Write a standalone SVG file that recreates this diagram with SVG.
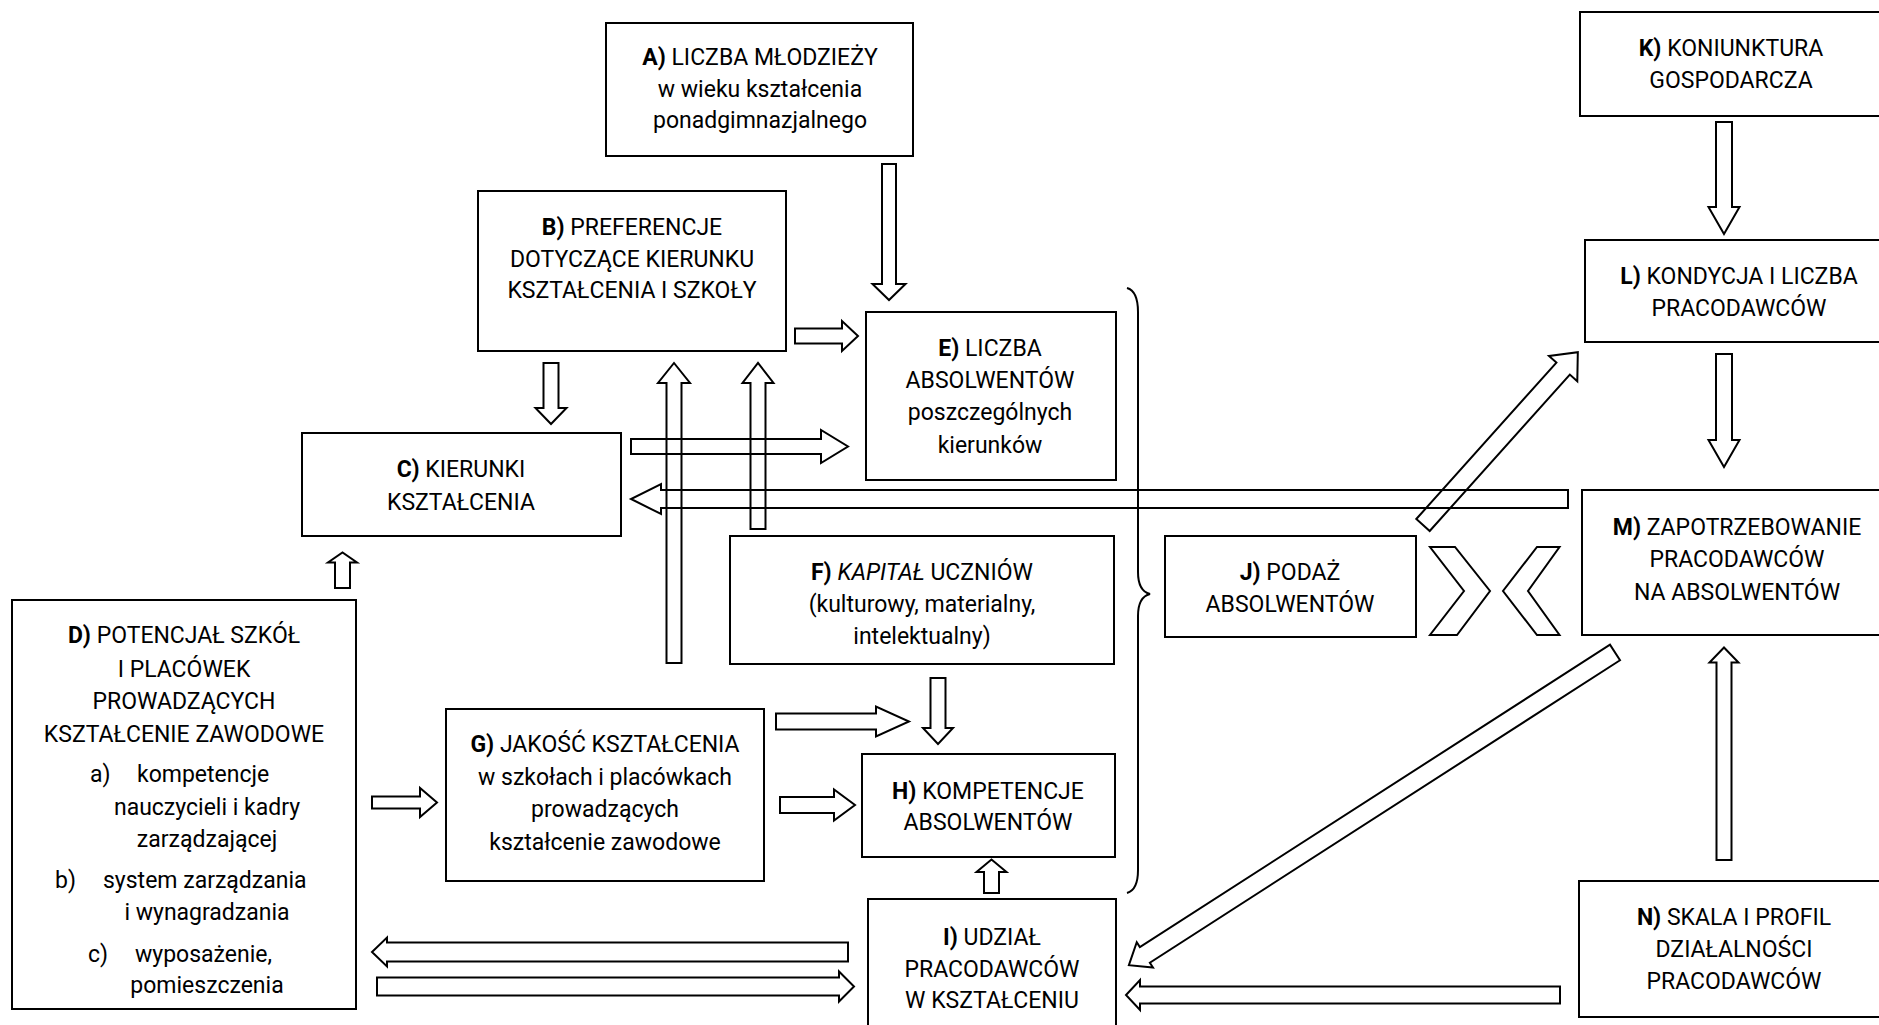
<svg xmlns="http://www.w3.org/2000/svg" width="1879" height="1025" viewBox="0 0 1879 1025">
<defs>
<style>
.box{fill:none;stroke:#000;stroke-width:2}
.arr{fill:none;stroke:#000;stroke-width:2;stroke-linejoin:miter}
.t{font-family:Roboto,"Liberation Sans",sans-serif;font-size:23px;fill:#000;text-anchor:middle}
.s{text-anchor:start}
.b{font-weight:bold}
.i{font-style:italic}
</style>
</defs>
<rect width="1879" height="1025" fill="#fff"/>

<g id="nodeA">
<rect class="box" x="606" y="23" width="307" height="133"/>
<text class="t" x="760" y="65"><tspan class="b">A)</tspan> LICZBA MŁODZIEŻY</text>
<text class="t" x="760" y="97">w wieku kształcenia</text>
<text class="t" x="760" y="128">ponadgimnazjalnego</text>
</g>

<g id="nodeB">
<rect class="box" x="478" y="191" width="308" height="160"/>
<text class="t" x="632" y="235"><tspan class="b">B)</tspan> PREFERENCJE</text>
<text class="t" x="632" y="267">DOTYCZĄCE KIERUNKU</text>
<text class="t" x="632" y="298">KSZTAŁCENIA I SZKOŁY</text>
</g>

<g id="nodeC">
<rect class="box" x="302" y="433" width="319" height="103"/>
<text class="t" x="461" y="477"><tspan class="b">C)</tspan> KIERUNKI</text>
<text class="t" x="461" y="510">KSZTAŁCENIA</text>
</g>

<g id="nodeD">
<rect class="box" x="12" y="600" width="344" height="409"/>
<text class="t" x="184" y="643"><tspan class="b">D)</tspan> POTENCJAŁ SZKÓŁ</text>
<text class="t" x="184" y="677">I PLACÓWEK</text>
<text class="t" x="184" y="709">PROWADZĄCYCH</text>
<text class="t" x="184" y="742">KSZTAŁCENIE ZAWODOWE</text>
<text class="t s" x="90" y="782">a)</text>
<text class="t s" x="137" y="782">kompetencje</text>
<text class="t" x="207" y="815">nauczycieli i kadry</text>
<text class="t" x="207" y="847">zarządzającej</text>
<text class="t s" x="55" y="888">b)</text>
<text class="t s" x="103" y="888">system zarządzania</text>
<text class="t" x="207" y="920">i wynagradzania</text>
<text class="t s" x="88" y="962">c)</text>
<text class="t s" x="135" y="962">wyposażenie,</text>
<text class="t" x="207" y="993">pomieszczenia</text>
</g>

<g id="nodeE">
<rect class="box" x="866" y="312" width="250" height="168"/>
<text class="t" x="990" y="356"><tspan class="b">E)</tspan> LICZBA</text>
<text class="t" x="990" y="388">ABSOLWENTÓW</text>
<text class="t" x="990" y="420">poszczególnych</text>
<text class="t" x="990" y="453">kierunków</text>
</g>

<g id="nodeF">
<rect class="box" x="730" y="536" width="384" height="128"/>
<text class="t" x="922" y="580"><tspan class="b">F)</tspan> <tspan class="i">KAPITAŁ</tspan> UCZNIÓW</text>
<text class="t" x="922" y="612">(kulturowy, materialny,</text>
<text class="t" x="922" y="644">intelektualny)</text>
</g>

<g id="nodeG">
<rect class="box" x="446" y="709" width="318" height="172"/>
<text class="t" x="605" y="752"><tspan class="b">G)</tspan> JAKOŚĆ KSZTAŁCENIA</text>
<text class="t" x="605" y="785">w szkołach i placówkach</text>
<text class="t" x="605" y="817">prowadzących</text>
<text class="t" x="605" y="850">kształcenie zawodowe</text>
</g>

<g id="nodeH">
<rect class="box" x="862" y="754" width="253" height="103"/>
<text class="t" x="988" y="799"><tspan class="b">H)</tspan> KOMPETENCJE</text>
<text class="t" x="988" y="830">ABSOLWENTÓW</text>
</g>

<g id="nodeI">
<rect class="box" x="868" y="899" width="248" height="140"/>
<text class="t" x="992" y="945"><tspan class="b">I)</tspan> UDZIAŁ</text>
<text class="t" x="992" y="977">PRACODAWCÓW</text>
<text class="t" x="992" y="1008">W KSZTAŁCENIU</text>
</g>

<g id="nodeJ">
<rect class="box" x="1165" y="536" width="251" height="101"/>
<text class="t" x="1290" y="580"><tspan class="b">J)</tspan> PODAŻ</text>
<text class="t" x="1290" y="612">ABSOLWENTÓW</text>
</g>

<g id="nodeK">
<rect class="box" x="1580" y="12" width="320" height="104"/>
<text class="t" x="1731" y="56"><tspan class="b">K)</tspan> KONIUNKTURA</text>
<text class="t" x="1731" y="88">GOSPODARCZA</text>
</g>

<g id="nodeL">
<rect class="box" x="1585" y="240" width="320" height="102"/>
<text class="t" x="1739" y="284"><tspan class="b">L)</tspan> KONDYCJA I LICZBA</text>
<text class="t" x="1739" y="316">PRACODAWCÓW</text>
</g>

<g id="nodeM">
<rect class="box" x="1582" y="490" width="320" height="145"/>
<text class="t" x="1737" y="535"><tspan class="b">M)</tspan> ZAPOTRZEBOWANIE</text>
<text class="t" x="1737" y="567">PRACODAWCÓW</text>
<text class="t" x="1737" y="600">NA ABSOLWENTÓW</text>
</g>

<g id="nodeN">
<rect class="box" x="1579" y="881" width="320" height="136"/>
<text class="t" x="1734" y="925"><tspan class="b">N)</tspan> SKALA I PROFIL</text>
<text class="t" x="1734" y="957">DZIAŁALNOŚCI</text>
<text class="t" x="1734" y="989">PRACODAWCÓW</text>
</g>

<g id="connectors">
<path class="arr" d="M882,164 L896,164 L896,284 L905.5,284 L889,300 L872.5,284 L882,284 Z"/>
<path class="arr" d="M795,328.5 L842,328.5 L842,321 L858,336 L842,351 L842,343.5 L795,343.5 Z"/>
<path class="arr" d="M543.5,363 L558.5,363 L558.5,408 L566.5,408 L551,424 L535.5,408 L543.5,408 Z"/>
<path class="arr" d="M666.5,663 L666.5,383 L658,383 L674,363 L690,383 L681.5,383 L681.5,663 Z"/>
<path class="arr" d="M750.5,529 L750.5,383 L742.5,383 L758,363 L773.5,383 L765.5,383 L765.5,529 Z"/>
<path class="arr" d="M631,439 L821,439 L821,430 L848,446.5 L821,463 L821,454 L631,454 Z"/>
<path class="arr" d="M1568,490 L661,490 L661,484 L631,499 L661,514 L661,508 L1568,508 Z"/>
<path class="arr" d="M335,588 L335,562.5 L328,562.5 L342.5,552.5 L357,562.5 L350,562.5 L350,588 Z"/>
<path class="arr" transform="translate(1423,525) rotate(-48.14)" d="M0,-9 L210,-9 L210,-19 L232,0 L210,19 L210,9 L0,9 Z"/>
<path class="arr" transform="translate(1615,652.5) rotate(147.25)" d="M0,-9.25 L559,-9.25 L559,-15 L578,0 L559,15 L559,9.25 L0,9.25 Z"/>
<path class="arr" d="M1716.5,860 L1716.5,662.5 L1709.5,662.5 L1724,647.5 L1738.5,662.5 L1731.5,662.5 L1731.5,860 Z"/>
<path class="arr" d="M1716,122 L1732,122 L1732,207 L1739.5,207 L1724,234 L1708.5,207 L1716,207 Z"/>
<path class="arr" d="M1716,354 L1732,354 L1732,440 L1739.5,440 L1724,467 L1708.5,440 L1716,440 Z"/>
<path class="arr" d="M1560,986.5 L1140,986.5 L1140,980 L1126,995 L1140,1010 L1140,1003.5 L1560,1003.5 Z"/>
<path class="arr" d="M930.5,678 L945.5,678 L945.5,728 L953,728 L938,744 L923,728 L930.5,728 Z"/>
<path class="arr" d="M776,713.5 L876,713.5 L876,706.5 L909,721.5 L876,736.5 L876,729.5 L776,729.5 Z"/>
<path class="arr" d="M780,797 L834,797 L834,789.5 L855,805 L834,820.5 L834,813 L780,813 Z"/>
<path class="arr" d="M984,893 L984,872 L976.5,872 L991.5,859.5 L1006.5,872 L999,872 L999,893 Z"/>
<path class="arr" d="M372,796.5 L420,796.5 L420,788 L437,802.5 L420,817 L420,808.5 L372,808.5 Z"/>
<path class="arr" d="M848,942.5 L387,942.5 L387,937.5 L372,952 L387,966.5 L387,961.5 L848,961.5 Z"/>
<path class="arr" d="M377,977.5 L839,977.5 L839,971.5 L854,986.5 L839,1001.5 L839,995.5 L377,995.5 Z"/>
<path class="arr" d="M1430,547 L1455,547 L1490,591 L1457,635 L1430,635 L1464,591 Z"/>
<path class="arr" d="M1559.5,547 L1537,547 L1503,591 L1537,635 L1559.5,635 L1528,591 Z"/>
<path class="arr" d="M1127,288 C1134,290 1138,298 1138,312 L1138,572 C1138,585 1142,592 1150,594 C1142,596 1138,603 1138,616 L1138,870 C1138,884 1134,891 1127,893"/>
</g>
</svg>
